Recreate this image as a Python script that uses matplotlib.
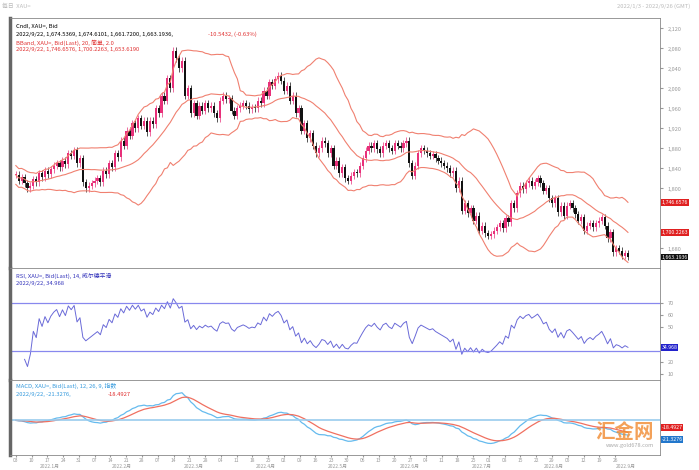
import numpy as np
import pandas as pd
import matplotlib.pyplot as plt

plt.rcParams['font.family'] = ['Noto Sans CJK SC', 'DejaVu Sans']

# daily closes (chart scale)
closes = [1827, 1815, 1822, 1810, 1800, 1805, 1818, 1812, 1830, 1822, 1835, 1828, 1838, 1845, 1850, 1842,
          1855, 1848, 1870, 1865, 1876,
          1850, 1860, 1812, 1800, 1805, 1810, 1815,
          1820, 1812, 1835, 1828, 1850, 1842, 1870, 1862, 1895, 1885, 1915, 1905, 1930, 1920, 1940, 1925,
          1935, 1912, 1935, 1928, 1960, 1950, 1985, 1975, 2020, 2000, 2075, 2060,
          2040, 2055, 1985, 2000, 1950, 1970, 1945, 1965, 1955, 1970, 1960, 1965, 1950, 1940, 1975, 1985,
          1978, 1980, 1955, 1945, 1960, 1965, 1970, 1965, 1958, 1962, 1960, 1975, 1970, 1995, 1985, 2012,
          2005, 2018, 2025, 2015,
          1995, 2005, 1975, 1985, 1950, 1960, 1915, 1930, 1900, 1910, 1885, 1870, 1880, 1895, 1890, 1870,
          1880, 1845, 1855, 1830, 1842, 1820, 1815, 1825, 1832, 1830,
          1845, 1860, 1875, 1885, 1880, 1890, 1878, 1870, 1885, 1890, 1880, 1875, 1890, 1885, 1880, 1890,
          1895, 1850, 1825, 1845, 1870, 1880, 1875, 1870, 1865, 1868, 1860, 1855, 1850, 1845, 1840, 1830, 1835,
          1800, 1815, 1755, 1770, 1750, 1760, 1735, 1745, 1715, 1725, 1710, 1705, 1708, 1715, 1722, 1730, 1720,
          1740, 1732, 1770, 1760, 1790, 1805, 1798, 1810, 1815, 1805, 1812, 1820, 1810, 1795, 1800, 1780,
          1770, 1780, 1752, 1765, 1745, 1765, 1770, 1760, 1748, 1735, 1742, 1715, 1725, 1730, 1722, 1730,
          1735, 1742, 1725, 1700, 1712, 1672, 1680, 1675, 1665, 1670, 1663]
wick = [7] * len(closes)

price_ticks = [1680, 1800, 1840, 1880, 1920, 1960, 2000, 2040, 2080, 2120]
day_ticks = ['03', '10', '17', '24', '31', '07', '14', '21', '28', '07', '14', '21', '28', '04', '11', '18', '25',
             '02', '09', '16', '23', '30', '06', '13', '20', '27', '04', '11', '18', '25', '01', '08', '15', '22',
             '29', '05', '12', '19', '26']
month_ticks = ['2022.1月', '2022.2月', '2022.3月', '2022.4月', '2022.5月', '2022.6月', '2022.7月', '2022.8月', '2022.9月']

c = pd.Series(closes, dtype=float)
o = c.shift(1).fillna(c.iloc[0])
n = len(c)
x = np.arange(n)

mid = c.rolling(20, min_periods=1).mean()
sd = c.rolling(20, min_periods=5).std(ddof=0).bfill()
up, lo = mid + 2 * sd, mid - 2 * sd

d = c.diff()
g = d.clip(lower=0).ewm(alpha=1 / 14, adjust=True).mean()
l = (-d.clip(upper=0)).ewm(alpha=1 / 14, adjust=True).mean()
rsi = 100 - 100 / (1 + g / l.replace(0, np.nan))
rsi[:3] = np.nan

macd = c.ewm(span=12, adjust=False).mean() - c.ewm(span=26, adjust=False).mean()
sig = macd.ewm(span=9, adjust=False).mean()

W, H = 699, 470
fig = plt.figure(figsize=(W / 100, H / 100), dpi=100)
fig.patch.set_facecolor('white')

def box(top, bot):
    return [10 / W, 1 - bot / H, 650 / W, (bot - top) / H]

ax1 = fig.add_axes(box(18, 268))
ax2 = fig.add_axes(box(268, 380), sharex=ax1)
ax3 = fig.add_axes(box(380, 455), sharex=ax1)

pink, dark = '#e8307a', '#111111'
cols = [pink if cc >= oo else dark for cc, oo in zip(c, o)]
hi = np.maximum(c, o) + np.array(wick)
lw = np.minimum(c, o) - np.array(wick)
ax1.vlines(x, lw, hi, colors=cols, linewidth=0.5)
ax1.bar(x, np.maximum(abs(c - o), 1), bottom=np.minimum(c, o), width=0.75, color=cols)
for s in (up, mid, lo):
    ax1.plot(x, s, color='#f08070', lw=0.8)
ax1.set_ylim(1641, 2141)

ax2.plot(x, rsi, color='#6a6ad8', lw=0.7)
ax2.axhline(70, color='#8888ee', lw=0.9)
ax2.axhline(30, color='#8888ee', lw=0.9)
ax2.set_ylim(5, 100)

ax3.plot(x, macd, color='#66bbee', lw=0.9)
ax3.plot(x, sig, color='#f07060', lw=0.9)
ax3.axhline(0, color='#99ccee', lw=1.2)
ax3.set_ylim(-60, 70)

ax1.set_xlim(-2, n + 10)
for ax in (ax1, ax2, ax3):
    ax.yaxis.tick_right()
    ax.tick_params(axis='y', labelsize=4, colors='#999999', length=2)
    ax.tick_params(axis='x', labelbottom=False, length=0)
    for sp in ax.spines.values():
        sp.set_color('#888888')
        sp.set_linewidth(0.6)
    ax.spines['left'].set_linewidth(2.5)
    ax.spines['left'].set_color('#666666')

ax1.set_yticks(price_ticks)
ax1.set_yticklabels([f'{v:,}' for v in price_ticks])
ax2.set_yticks([10, 20, 50, 60, 70])
ax3.set_yticks([])

step = n / len(day_ticks)
ax3.set_xticks([i * step for i in range(len(day_ticks))])
ax3.set_xticklabels(day_ticks)
ax3.tick_params(axis='x', labelbottom=True, labelsize=3.5, colors='#999999', length=1.5, pad=0.5)
for i, m in enumerate(month_ticks):
    fig.text((10 + 40 + i * 72) / W, 1 - 469 / H, m, fontsize=3.5, color='#999999', ha='center', va='bottom')

fs = 4.2
fig.text(2 / W, 1 - 6 / H, '每日  XAU=', fontsize=fs, color='#bbbbbb', va='center')
fig.text(690 / W, 1 - 6 / H, '2022/1/3 - 2022/9/26 (GMT)', fontsize=fs, color='#bbbbbb', va='center', ha='right')
ax1.text(0.01, 0.975, 'Cndl, XAU=, Bid', transform=ax1.transAxes, fontsize=fs, va='top')
ax1.text(0.01, 0.945, '2022/9/22, 1,674.5369, 1,674.6101, 1,661.7200, 1,663.1936,', transform=ax1.transAxes,
         fontsize=fs, va='top')
ax1.text(0.305, 0.945, '-10.5432, (-0.63%)', transform=ax1.transAxes, fontsize=fs, va='top', color='#e03030')
ax1.text(0.01, 0.915, 'BBand, XAU=, Bid(Last), 20, 简单, 2.0', transform=ax1.transAxes, fontsize=fs,
         va='top', color='#e03030')
ax1.text(0.01, 0.885, '2022/9/22, 1,746.6576, 1,700.2263, 1,653.6190', transform=ax1.transAxes, fontsize=fs,
         va='top', color='#e03030')
ax2.text(0.01, 0.96, 'RSI, XAU=, Bid(Last), 14, 威尔德平滑', transform=ax2.transAxes, fontsize=fs, va='top',
         color='#3333bb')
ax2.text(0.01, 0.88, '2022/9/22, 34.968', transform=ax2.transAxes, fontsize=fs, va='top', color='#3333bb')
ax3.text(0.01, 0.96, 'MACD, XAU=, Bid(Last), 12, 26, 9, 指数', transform=ax3.transAxes, fontsize=fs, va='top',
         color='#3399dd')
ax3.text(0.01, 0.84, '2022/9/22, -21.3276,', transform=ax3.transAxes, fontsize=fs, va='top', color='#3399dd')
ax3.text(0.15, 0.84, '-18.4927', transform=ax3.transAxes, fontsize=fs, va='top', color='#e03030')

fig.text(625 / W, 1 - 432 / H, '汇金网', fontsize=14, color='#f08a30', alpha=0.8, ha='center', va='center',
         fontweight='bold')
fig.text(630 / W, 1 - 446 / H, 'www.gold678.com', fontsize=4, color='#aaaaaa', ha='center', va='center')

def tag(ax, y, s, fc, tc='white'):
    ax.annotate(s, xy=(1, y), xycoords=('axes fraction', 'data'), xytext=(1, 0), textcoords='offset points',
                fontsize=3.8, color=tc, va='center', ha='left', annotation_clip=False, zorder=10,
                bbox=dict(boxstyle='square,pad=0.15', fc=fc, ec='none'))

tag(ax1, up.iloc[-1], '1,746.6576', '#e02020')
tag(ax1, mid.iloc[-1], '1,700.2263', '#e02020')
tag(ax1, c.iloc[-1], '1,663.1936', '#111111')
tag(ax2, rsi.iloc[-1], '34.968', '#2222cc')
tag(ax3, sig.iloc[-1] + 8, '-18.4927', '#e02020')
tag(ax3, macd.iloc[-1] - 8, '-21.3276', '#2277cc')

fig.savefig('out.png', dpi=100)
